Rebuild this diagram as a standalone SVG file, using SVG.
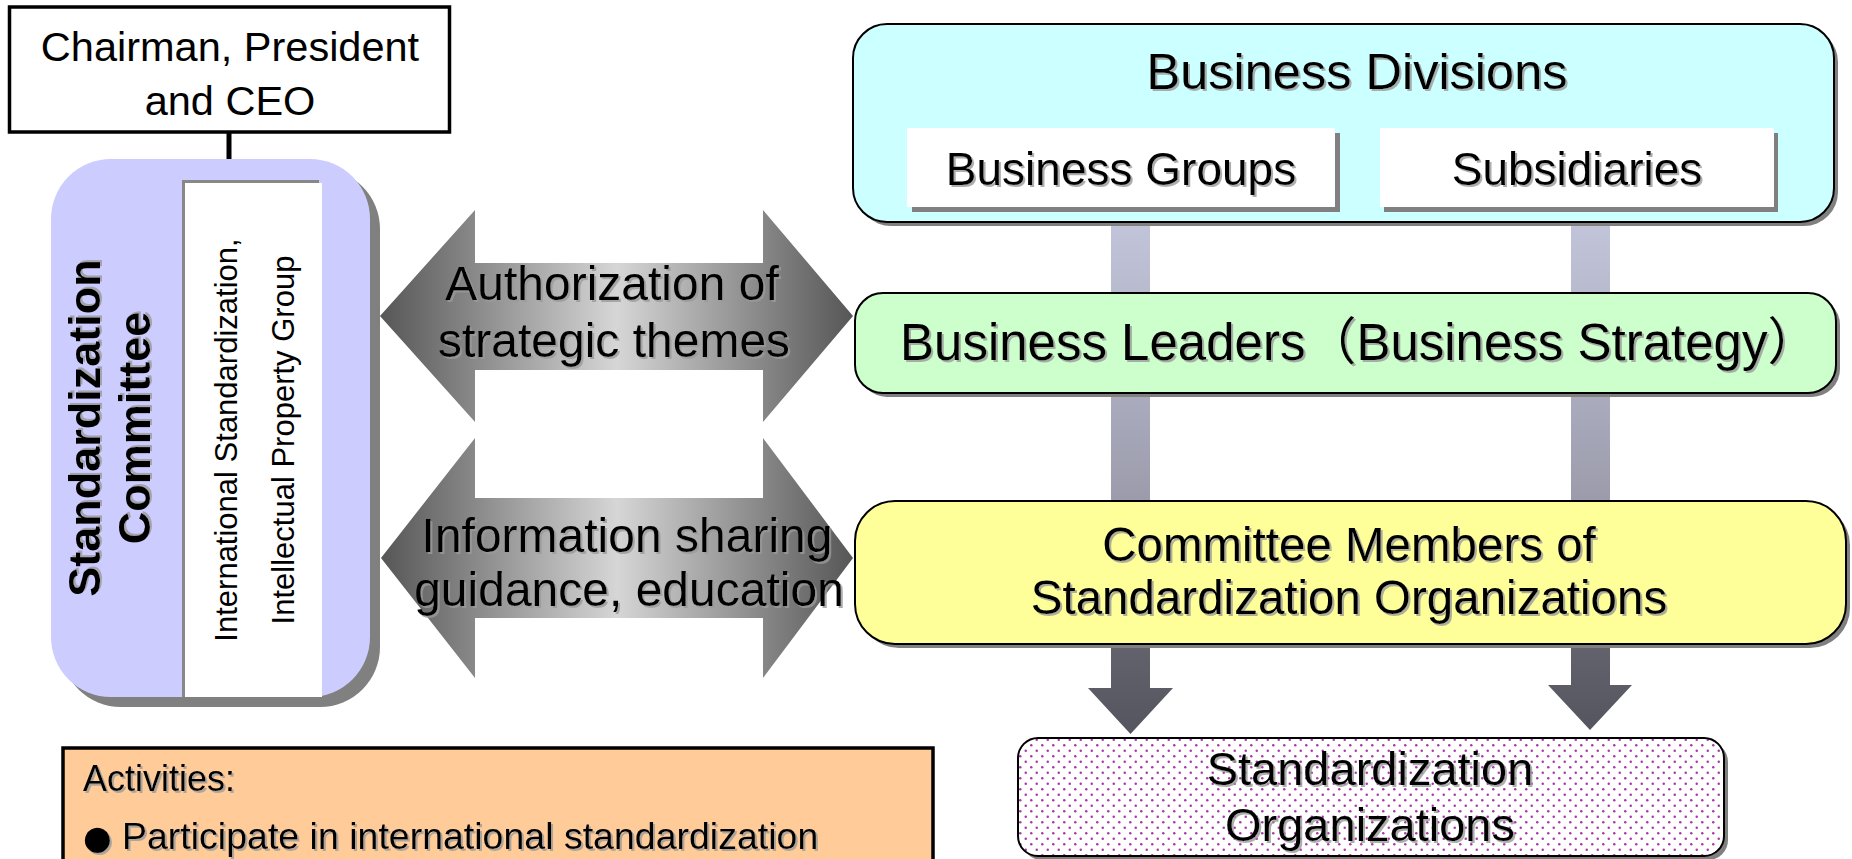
<svg xmlns="http://www.w3.org/2000/svg" width="1852" height="859" viewBox="0 0 1852 859">
<defs>
<style>
text { font-family: "Liberation Sans", "Noto Sans CJK JP", Arial, sans-serif; fill: #000; }
.ts { filter: url(#ts); }
.sh { fill: #808080; }
.box { stroke: #000; stroke-width: 2; }
.c { text-anchor: middle; }
</style>
<filter id="ts" x="-5%" y="-10%" width="110%" height="130%">
<feDropShadow dx="2" dy="2" stdDeviation="0.4" flood-color="#9a9a9a" flood-opacity="0.8"/>
</filter>
<linearGradient id="dbl" x1="0" y1="0" x2="1" y2="0">
<stop offset="0" stop-color="#565656"/>
<stop offset="0.5" stop-color="#d6d6d6"/>
<stop offset="1" stop-color="#565656"/>
</linearGradient>
<linearGradient id="bar" x1="0" y1="0" x2="0" y2="1">
<stop offset="0" stop-color="#c2c5da"/>
<stop offset="1" stop-color="#9b9bab"/>
</linearGradient>
<linearGradient id="down" x1="0" y1="0" x2="0" y2="1">
<stop offset="0" stop-color="#63636d"/>
<stop offset="1" stop-color="#55555f"/>
</linearGradient>
<pattern id="dots" width="11" height="11" patternUnits="userSpaceOnUse">
<rect width="11" height="11" fill="#fff"/>
<circle cx="2.75" cy="2.75" r="1.25" fill="#a838a8"/>
<circle cx="8.25" cy="8.25" r="1.25" fill="#a838a8"/>
</pattern>
</defs>

<g id="connectors">
<line x1="229" y1="132" x2="229" y2="160" stroke="#000" stroke-width="5"/>
<rect x="1111" y="222" width="39" height="280" fill="url(#bar)"/>
<rect x="1571" y="222" width="39" height="280" fill="url(#bar)"/>
<polygon points="1111,644 1150,644 1150,688 1173,688 1130.5,734 1088,688 1111,688" fill="url(#down)"/>
<polygon points="1571,644 1610,644 1610,685 1632,685 1590,730 1548,685 1571,685" fill="url(#down)"/>
<g id="arrow-authorization">
<polygon points="380,316 475,210 475,263 763,263 763,210 853,316 763,422 763,370 475,370 475,422" fill="url(#dbl)"/>
<text class="c ts" x="612" y="300" font-size="48">Authorization of</text>
<text class="c ts" x="614" y="357" font-size="48">strategic themes</text>
</g>
<g id="arrow-information">
<polygon points="381,558 475,438 475,498 763,498 763,438 853,558 763,678 763,618 475,618 475,678" fill="url(#dbl)"/>
<text class="c ts" x="627" y="552" font-size="48">Information sharing</text>
<text class="c ts" x="629" y="606" font-size="48">guidance, education</text>
</g>
</g>

<g id="ceo">
<rect x="9.5" y="7" width="440" height="125" fill="#fff" stroke="#000" stroke-width="3.5"/>
<text class="c" x="230" y="61" font-size="41.5">Chairman, President</text>
<text class="c" x="230" y="115" font-size="41.5">and CEO</text>
</g>

<g id="standardization-committee">
<rect class="sh" x="61" y="169" width="319" height="538" rx="60"/>
<rect x="51" y="159" width="319" height="538" rx="60" fill="#ccccff"/>
<text class="c ts" transform="translate(100,428) rotate(-90)" font-size="45" font-weight="bold">Standardization</text>
<text class="c ts" transform="translate(150,428) rotate(-90)" font-size="45" font-weight="bold">Committee</text>
<g id="ip-group">
<rect x="182" y="180" width="137" height="517" fill="#888"/>
<rect x="185" y="183" width="137" height="514" fill="#fff"/>
<text class="c" transform="translate(237,440) rotate(-90)" font-size="31">International Standardization,</text>
<text class="c" transform="translate(294,440) rotate(-90)" font-size="31">Intellectual Property Group</text>
</g>
</g>

<g id="business-divisions">
<rect class="sh" x="857" y="28" width="981" height="198" rx="34"/>
<rect class="box" x="853" y="24" width="981" height="198" rx="34" fill="#ccffff"/>
<text class="c ts" x="1357" y="89" font-size="50.5">Business Divisions</text>
<g id="business-groups">
<rect class="sh" x="912" y="133" width="428" height="79"/>
<rect x="907" y="128" width="428" height="79" fill="#fff"/>
<text class="c ts" x="1121" y="185" font-size="46">Business Groups</text>
</g>
<g id="subsidiaries">
<rect class="sh" x="1384" y="133" width="394" height="79"/>
<rect x="1380" y="128" width="394" height="79" fill="#fff"/>
<text class="c ts" x="1577" y="185" font-size="46">Subsidiaries</text>
</g>
</g>

<g id="business-leaders">
<rect class="sh" x="859" y="297" width="981" height="100" rx="28"/>
<rect class="box" x="855" y="293" width="981" height="100" rx="28" fill="#ccffcc"/>
<text class="ts" x="900" y="360" font-size="51">Business Leaders（Business Strategy）</text>
</g>

<g id="committee-members">
<rect class="sh" x="859" y="505" width="991" height="143" rx="40"/>
<rect class="box" x="855" y="501" width="991" height="143" rx="40" fill="#ffff99"/>
<text class="c ts" x="1349" y="561" font-size="47.5">Committee Members of</text>
<text class="c ts" x="1349" y="614" font-size="47.5">Standardization Organizations</text>
</g>

<g id="standardization-organizations">
<rect class="sh" x="1022" y="742" width="706" height="118" rx="20"/>
<rect class="box" x="1018" y="738" width="706" height="118" rx="20" fill="url(#dots)"/>
<text class="c ts" x="1370" y="785" font-size="47">Standardization</text>
<text class="c ts" x="1370" y="841" font-size="47">Organizations</text>
</g>

<g id="activities">
<rect x="63" y="748" width="870" height="130" fill="#ffcc99" stroke="#000" stroke-width="3.5"/>
<text class="ts" x="83" y="791" font-size="36">Activities:</text>
<text class="ts" y="849" font-size="37.5"><tspan x="83" font-family="DejaVu Sans" font-size="33">● </tspan><tspan x="122">Participate in international standardization</tspan></text>
</g>
</svg>
